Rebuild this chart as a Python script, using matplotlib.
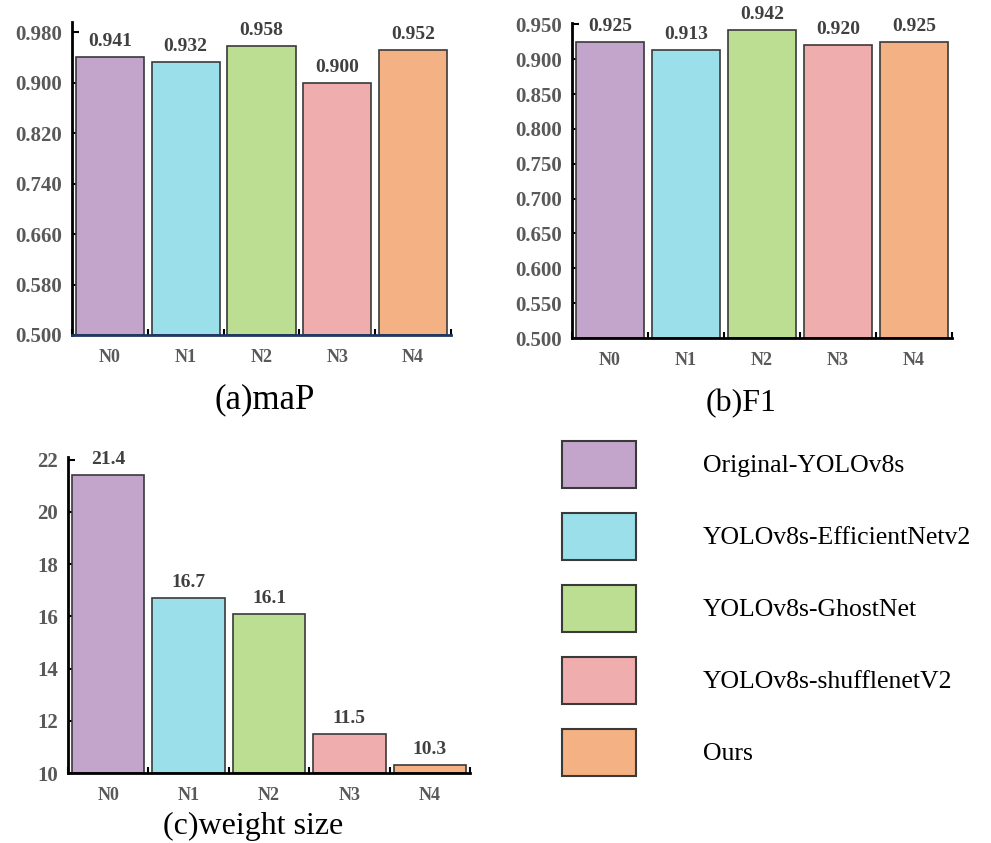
import matplotlib
matplotlib.use("Agg")
import matplotlib.pyplot as plt
from matplotlib.patches import Patch

plt.rcParams['font.family'] = ['Liberation Serif', 'DejaVu Serif']

categories = ['N0', 'N1', 'N2', 'N3', 'N4']
models = ['Original-YOLOv8s', 'YOLOv8s-EfficientNetv2', 'YOLOv8s-GhostNet',
          'YOLOv8s-shufflenetV2', 'Ours']
colors = ['#C3A5CC', '#9ADFE9', '#BCDE92', '#F0ADAE', '#F4B183']

map_vals = [0.941, 0.932, 0.958, 0.900, 0.952]
f1_vals = [0.925, 0.913, 0.942, 0.920, 0.925]
weight_vals = [21.4, 16.7, 16.1, 11.5, 10.3]

map_ticks = [0.500, 0.580, 0.660, 0.740, 0.820, 0.900, 0.980]
f1_ticks = [0.500, 0.550, 0.600, 0.650, 0.700, 0.750, 0.800, 0.850, 0.900, 0.950]
weight_ticks = [10, 12, 14, 16, 18, 20, 22]

W, H = 991, 843
fig = plt.figure(figsize=(W / 100, H / 100), dpi=100)

def px_axes(x0, y0, x1, y1):
    return fig.add_axes([x0 / W, 1 - y1 / H, (x1 - x0) / W, (y1 - y0) / H])

def draw_panel(ax, vals, ticks, ylim, fmt, bottom_color='black'):
    x = range(len(categories))
    ax.bar(x, [v - ylim[0] for v in vals], bottom=ylim[0], width=0.9,
           color=colors, edgecolor='#3a3a3a', linewidth=1.2, zorder=2)
    for i, v in enumerate(vals):
        ax.annotate(fmt.format(v), (i, v), xytext=(0, 5), textcoords='offset points',
                    ha='center', va='bottom', fontsize=14, fontweight='bold',
                    color='#404040')
    ax.set_xlim(-0.5, len(categories) - 0.5)
    ax.set_ylim(*ylim)
    ax.set_yticks(ticks)
    ax.set_yticklabels([fmt.format(t) for t in ticks])
    ax.set_xticks(list(x))
    ax.set_xticklabels(categories)
    ax.set_xticks([i + 0.5 for i in range(-1, len(categories))], minor=True)
    for s in ['top', 'right']:
        ax.spines[s].set_visible(False)
    ax.spines['left'].set_linewidth(2)
    ax.spines['bottom'].set_linewidth(2)
    ax.spines['bottom'].set_color(bottom_color)
    ax.tick_params(axis='y', direction='in', length=5, width=1.5, pad=7,
                   labelsize=15, labelcolor='#595959')
    ax.tick_params(axis='x', which='major', length=0, pad=10,
                   labelsize=13, labelcolor='#595959')
    ax.tick_params(axis='x', which='minor', direction='in', length=4, width=1.5)
    for lab in ax.get_xticklabels() + ax.get_yticklabels():
        lab.set_fontweight('bold')

ax_a = px_axes(72, 22, 451, 335)
draw_panel(ax_a, map_vals, map_ticks, (0.5, 0.996), '{:.3f}', bottom_color='#1F3864')
fig.text(265 / W, 1 - 400 / H, '(a)maP', ha='center', va='center', fontsize=25)

ax_b = px_axes(572, 23, 952, 338)
draw_panel(ax_b, f1_vals, f1_ticks, (0.5, 0.952), '{:.3f}')
fig.text(741 / W, 1 - 404 / H, '(b)F1', ha='center', va='center', fontsize=23)

ax_c = px_axes(68, 457, 470, 773)
draw_panel(ax_c, weight_vals, weight_ticks, (10, 22.1), '{:.1f}')
ax_c.set_yticklabels([str(t) for t in weight_ticks])
for lab in ax_c.get_yticklabels():
    lab.set_fontweight('bold')
fig.text(253 / W, 1 - 826 / H, '(c)weight size', ha='center', va='center', fontsize=23)

handles = [Patch(facecolor=c, edgecolor='#3a3a3a', linewidth=1.5) for c in colors]
fig.legend(handles, models, loc='upper left', bbox_to_anchor=(562 / W, 1 - 441 / H),
           frameon=False, fontsize=18.5, borderpad=0, borderaxespad=0,
           handlelength=2.88, handleheight=2.44, labelspacing=0.97,
           handletextpad=2.6)

fig.savefig('out.png', dpi=100)
